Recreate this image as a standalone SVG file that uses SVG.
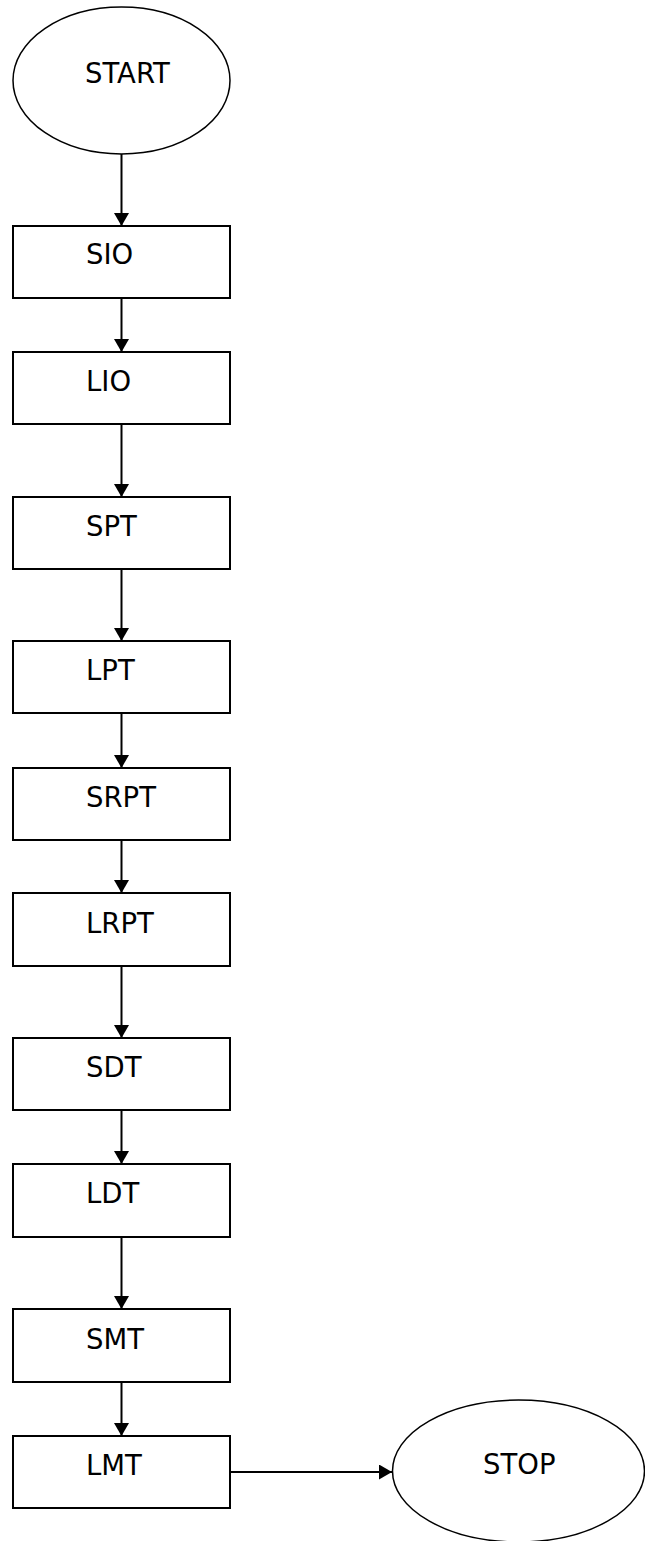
<svg xmlns="http://www.w3.org/2000/svg" width="645" height="1541" viewBox="0 0 645 1541">
<style>
.n{fill:#fff;stroke:#000;stroke-width:2}
.e{fill:#fff;stroke:#000;stroke-width:1.5}
.t{font-family:"DejaVu Sans",Verdana,sans-serif;font-size:27.5px;fill:#000}
.c{stroke:#000;stroke-width:2;fill:none}
</style>
<defs>
<marker id="ah" markerWidth="13" markerHeight="15" refX="13" refY="7.5" orient="auto" markerUnits="userSpaceOnUse" viewBox="0 0 13 15">
<path d="M0,0 L13,7.5 L0,15 Z" fill="#000"/>
</marker>
</defs>
<rect width="645" height="1541" fill="#fff"/>
<g id="connectors">
<line class="c" x1="121.5" y1="154" x2="121.5" y2="226" marker-end="url(#ah)"/>
<line class="c" x1="121.5" y1="298" x2="121.5" y2="352" marker-end="url(#ah)"/>
<line class="c" x1="121.5" y1="424" x2="121.5" y2="497" marker-end="url(#ah)"/>
<line class="c" x1="121.5" y1="569" x2="121.5" y2="641" marker-end="url(#ah)"/>
<line class="c" x1="121.5" y1="713" x2="121.5" y2="768" marker-end="url(#ah)"/>
<line class="c" x1="121.5" y1="840" x2="121.5" y2="893" marker-end="url(#ah)"/>
<line class="c" x1="121.5" y1="966" x2="121.5" y2="1038" marker-end="url(#ah)"/>
<line class="c" x1="121.5" y1="1110" x2="121.5" y2="1164" marker-end="url(#ah)"/>
<line class="c" x1="121.5" y1="1237" x2="121.5" y2="1309" marker-end="url(#ah)"/>
<line class="c" x1="121.5" y1="1382" x2="121.5" y2="1436" marker-end="url(#ah)"/>
<line class="c" x1="230" y1="1472" x2="392" y2="1472" marker-end="url(#ah)"/>
</g>
<g id="start"><ellipse class="e" cx="121.5" cy="80.5" rx="108.5" ry="73.5"/><text class="t" x="85" y="83">START</text></g>
<g id="sio"><rect class="n" x="13" y="226" width="217" height="72"/><text class="t" x="86" y="264">SIO</text></g>
<g id="lio"><rect class="n" x="13" y="352" width="217" height="72"/><text class="t" x="86" y="391">LIO</text></g>
<g id="spt"><rect class="n" x="13" y="497" width="217" height="72"/><text class="t" x="86" y="536">SPT</text></g>
<g id="lpt"><rect class="n" x="13" y="641" width="217" height="72"/><text class="t" x="86" y="680">LPT</text></g>
<g id="srpt"><rect class="n" x="13" y="768" width="217" height="72"/><text class="t" x="86" y="807">SRPT</text></g>
<g id="lrpt"><rect class="n" x="13" y="893" width="217" height="73"/><text class="t" x="86" y="933">LRPT</text></g>
<g id="sdt"><rect class="n" x="13" y="1038" width="217" height="72"/><text class="t" x="86" y="1077">SDT</text></g>
<g id="ldt"><rect class="n" x="13" y="1164" width="217" height="73"/><text class="t" x="86" y="1203">LDT</text></g>
<g id="smt"><rect class="n" x="13" y="1309" width="217" height="73"/><text class="t" x="86" y="1349">SMT</text></g>
<g id="lmt"><rect class="n" x="13" y="1436" width="217" height="72"/><text class="t" x="86" y="1475">LMT</text></g>
<g id="stop"><ellipse class="e" cx="518.5" cy="1471" rx="126" ry="71"/><text class="t" x="483" y="1474">STOP</text></g>
</svg>
